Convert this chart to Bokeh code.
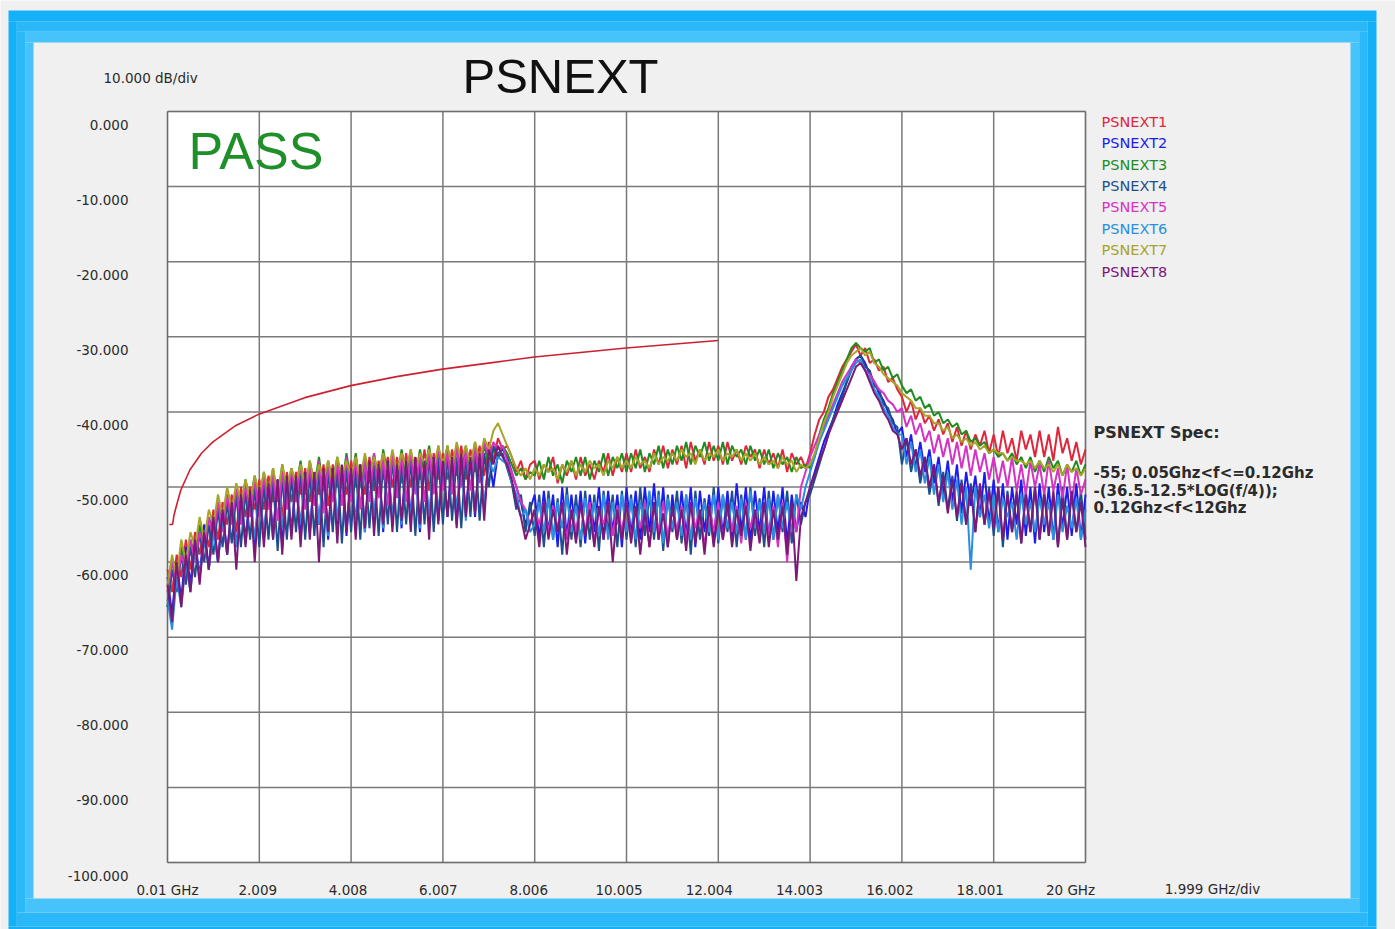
import numpy as np
from bokeh.plotting import figure
from bokeh.models import Range1d, LinearAxis, FixedTicker, Label, BoxAnnotation
from bokeh.embed import file_html
from bokeh.resources import INLINE

# ------------------------------------------------------------------ data
FREQ_GHZ = np.linspace(0.01, 20.0, 201)   # sweep points (GHz)

PSNEXT1 = [-61, -64, -59, -62, -57, -61, -56, -59, -55, -58,
           -53, -57, -52, -55, -51, -56, -50, -54, -50, -53,
           -49, -53, -48.5, -52, -49, -54, -48, -52, -48, -51,
           -47.5, -52, -48, -51, -47, -52.5, -47, -50, -47.5, -51,
           -46.5, -50, -47, -51, -46, -50.5, -46.5, -49, -46, -50,
           -46, -49.5, -45.5, -50, -46, -49, -45, -50.5, -45.5, -49,
           -45.5, -49, -45, -48.5, -44.5, -49, -45, -48, -44.5, -48.5,
           -44, -46.5, -43.5, -45, -44.5, -46, -48, -46.5, -49, -47,
           -46.5, -49, -47, -48, -46, -49.5, -47, -48.5, -46.5, -49,
           -46, -48.5, -47, -49, -46.5, -48, -45.5, -48.5, -46, -48,
           -45.5, -48, -45, -47.5, -46, -48, -45, -47, -44.5, -47.5,
           -45, -47, -44.5, -47.5, -44, -46.5, -45, -47, -44, -46.5,
           -44.5, -47, -44, -46.5, -45, -47, -44.5, -46, -45, -47.5,
           -45, -47, -45.5, -47.5, -45, -48, -45.5, -47, -46, -47.5,
           -45.5, -43, -41, -40, -38, -37, -35.5, -34, -33, -32,
           -31, -32.5, -31.5, -33.5, -33, -34.5, -34, -36, -35.5, -37,
           -38, -40, -38.5, -41, -39.5, -41.5, -40.5, -42.5, -41, -43,
           -41.5, -44, -42, -44.5, -42.5, -45, -43, -44.5, -42.5, -45.5,
           -43, -46, -42.5, -45.5, -43.5, -46.5, -42.5, -45, -43, -46,
           -42.5, -46, -43, -46.5, -42, -45.5, -43.5, -46.5, -44, -47,
           -45]
PSNEXT2 = [-62, -67, -60, -65, -58, -63, -57, -62, -55, -61,
           -54, -60, -53, -59, -52, -58, -51, -57, -50.5, -58,
           -50, -57, -49.5, -56, -49, -58, -49, -56, -48.5, -57,
           -48, -56, -48.5, -55, -48, -57, -47.5, -55, -48, -56.5,
           -47.5, -55, -47, -56, -47.5, -54.5, -47, -56, -46.5, -55,
           -47, -55.5, -46.5, -54, -47, -56, -46.5, -55, -46, -54.5,
           -46.5, -54, -46, -55, -46.5, -53.5, -46, -54, -45.5, -53,
           -46, -50, -45.5, -45, -46, -48, -50, -52, -55, -53,
           -51, -57, -50.5, -56, -51, -58, -50, -56.5, -51, -57,
           -50.5, -57.5, -51, -56, -50, -57, -50.5, -56, -51, -58,
           -50, -56.5, -50.5, -57, -50, -56, -49.5, -57, -50, -58,
           -51, -57, -50.5, -56.5, -50, -58, -50.5, -56, -51, -57.5,
           -50, -56.5, -50.5, -57, -49.5, -56, -50, -57.5, -50.5, -56,
           -50, -57, -50.5, -56, -50, -57.5, -51, -56, -52, -54,
           -50, -48, -46, -44, -42.5, -41, -39, -37.5, -36, -34,
           -33, -32.5, -33.5, -35, -36, -37.5, -38.5, -40, -41, -43,
           -42, -46, -43, -47.5, -44, -48, -45, -49.5, -46, -51,
           -46.5, -52, -47, -53.5, -48, -52.5, -48.5, -54, -48, -55,
           -49, -56, -49.5, -57, -50, -55, -49, -56.5, -50, -57.5,
           -49.5, -56, -50, -57, -49.5, -55.5, -50, -56.5, -49.5, -57,
           -51]
PSNEXT3 = [-66, -61, -63, -58, -62, -57, -60, -55, -58, -54,
           -56, -52, -55, -51, -54, -50, -53, -49, -52, -48.5,
           -52, -48, -51.5, -47.5, -52, -47, -51, -47.5, -50, -46.5,
           -51, -46.5, -50, -46, -50.5, -46.5, -49.5, -46, -50, -45.5,
           -49.5, -45.5, -50, -46, -49, -45.5, -49.5, -45, -48.5, -45.5,
           -49, -45, -48.5, -45.5, -49, -45, -48, -44.5, -48.5, -45,
           -48, -44.5, -48.5, -45, -47.5, -44.5, -48, -44, -47.5, -44.5,
           -47, -45, -46, -44.5, -45.5, -47, -48.5, -47.5, -49, -48,
           -48.5, -46.5, -49, -46, -48.5, -47, -49.5, -46.5, -48, -46,
           -48.5, -46, -49, -46.5, -48, -45.5, -48.5, -46, -47.5, -45.5,
           -48, -45.5, -47.5, -45, -48, -45.5, -47, -44.5, -47.5, -45,
           -47, -44.5, -46.5, -44, -47, -44.5, -46, -44, -46.5, -44.5,
           -46.5, -44, -47, -44.5, -46, -45, -47, -44.5, -46.5, -45,
           -47, -45, -47.5, -45.5, -47, -46, -48, -46, -47.5, -47,
           -47.5, -46, -43, -41, -39.5, -37.5, -36, -34.5, -33, -31.5,
           -30.8, -31.5, -32, -31.5, -33.5, -33, -34.5, -34, -35.5, -35,
           -36.5, -37.5, -37, -38.5, -38, -39.5, -39, -40.5, -40, -41.5,
           -41, -42, -41.5, -43, -42.5, -44, -43.5, -44.5, -44, -45.5,
           -45, -46, -45.5, -46.5, -45.5, -47, -46, -47.5, -46, -48,
           -46.5, -48, -46, -47.5, -46.5, -48.5, -47, -48, -46.5, -48.5,
           -47]
PSNEXT4 = [-66, -61, -64, -59, -63, -58, -62, -56, -60, -55,
           -59, -53, -58, -52, -57.5, -51, -58, -50.5, -57, -50,
           -58, -49.5, -57, -49, -58.5, -48.5, -57, -48.5, -56, -48,
           -57, -48, -56.5, -47.5, -58, -47.5, -56, -47, -57.5, -47,
           -56, -47, -57, -46.5, -55.5, -47, -56.5, -46.5, -55, -46,
           -56, -46.5, -55, -46, -56.5, -46.5, -55, -45.5, -56, -46,
           -55, -45.5, -54.5, -46, -55.5, -45.5, -54, -45, -54.5, -45.5,
           -50, -44.5, -46, -45.5, -47.5, -49.5, -53, -51, -56, -52,
           -56.5, -51, -58, -50.5, -57, -51.5, -59, -50, -57, -51,
           -58, -50.5, -57, -51, -58.5, -50.5, -56, -51, -58, -50.5,
           -57, -51, -58, -50, -56.5, -51, -57, -50.5, -58.5, -51,
           -56, -50.5, -57.5, -51, -59, -50.5, -57, -51.5, -56.5, -50,
           -57.5, -51, -56, -50.5, -58, -51, -57, -50, -56.5, -51.5,
           -58, -50.5, -57, -51, -56, -50.5, -57.5, -51, -55, -52,
           -51, -49, -47, -45, -43, -41, -39.5, -38, -36, -34.5,
           -33, -32.5, -34, -34.5, -36.5, -37, -39, -39.5, -41.5, -42,
           -47, -43.5, -48, -45, -49.5, -46, -51, -47, -52.5, -48,
           -53, -48.5, -54.5, -49, -55, -49.5, -56, -50, -55, -50,
           -56.5, -50, -58, -50.5, -56, -51, -57.5, -50.5, -56, -50,
           -57, -50.5, -56.5, -51, -58, -50, -57, -51, -56, -50.5,
           -57]
PSNEXT5 = [-64, -60, -63, -59, -61, -57, -60, -56, -58, -54,
           -57, -52, -56, -51, -55, -50, -55, -49.5, -54, -49,
           -54, -48.5, -53, -48, -54.5, -48, -53, -47.5, -52, -47,
           -53, -47, -52.5, -46.5, -53.5, -47, -52, -46.5, -52.5, -46,
           -52, -46, -53, -46.5, -52, -45.5, -51.5, -46, -52.5, -45.5,
           -51.5, -45.5, -52, -45, -51, -45.5, -52, -45, -51, -44.5,
           -50.5, -45, -51, -44.5, -50, -45, -50.5, -44.5, -49.5, -44,
           -46, -44, -45, -44.5, -46.5, -48, -50, -52, -53, -55,
           -53, -55, -52, -56, -52.5, -55.5, -52, -57, -53, -56,
           -52.5, -56, -52, -57.5, -53, -55, -52, -56.5, -52.5, -56,
           -52, -57, -53, -55.5, -52, -58, -52.5, -56, -52, -57,
           -53, -56, -52.5, -57, -52, -55.5, -53, -58, -52.5, -56,
           -52, -57, -53, -56, -52.5, -57.5, -52, -55.5, -53, -57,
           -52, -56.5, -52.5, -58, -52, -60, -52.5, -56, -50, -48,
           -46, -44.5, -43, -42, -40.5, -39, -37.5, -36, -35, -34,
           -33, -33.5, -34.5, -35, -36, -37, -37.5, -38.5, -39, -40,
           -39.5, -42, -40.5, -43, -41.5, -44, -42.5, -45.5, -43, -46,
           -43.5, -47, -44, -47.5, -44.5, -48.5, -45, -48, -45.5, -49,
           -46, -49.5, -46.5, -50, -46, -50.5, -47, -51, -46.5, -50,
           -47, -51, -46.5, -50.5, -47.5, -51.5, -47, -52, -47.5, -51,
           -49]
PSNEXT6 = [-65, -69, -62, -66, -60, -64, -58, -62, -57, -61,
           -56, -60, -54, -59, -53, -58, -52, -57.5, -51.5, -57,
           -50.5, -56, -50, -57, -49.5, -55.5, -49, -56.5, -49, -55,
           -48.5, -56, -48, -55, -48.5, -56.5, -48, -54.5, -47.5, -55.5,
           -48, -55, -47.5, -56, -47, -54, -47.5, -55.5, -47, -54,
           -47.5, -55, -47, -54.5, -46.5, -55.5, -47, -54, -46.5, -53.5,
           -46.5, -54, -47, -53, -46, -54.5, -46.5, -53, -46, -52.5,
           -46.5, -48, -46, -46.5, -47, -49.5, -51, -54, -53, -56,
           -55, -52, -56, -51.5, -57, -52, -55.5, -51, -56, -52.5,
           -57, -51.5, -55, -52, -56.5, -51, -57, -52, -55, -51,
           -56, -51.5, -57, -52, -55, -50.5, -56, -51, -57.5, -51.5,
           -55.5, -52, -56.5, -51, -57, -51.5, -55, -52, -56, -51,
           -57, -51, -55.5, -52, -56, -51.5, -57, -50.5, -55.5, -52,
           -56, -51.5, -57, -51, -55.5, -52, -56, -51, -53, -50,
           -48, -46, -44, -42.5, -41, -39.5, -38, -36.5, -35.5, -34.5,
           -33.5, -33, -34.5, -35.5, -37, -38, -39.5, -40.5, -42, -43,
           -43, -47, -44, -48, -45, -49.5, -46, -51, -47, -52,
           -48, -53, -49, -55, -50, -61, -50, -54, -51, -55.5,
           -51, -56, -51.5, -54, -52, -57, -51, -55, -52, -56,
           -51.5, -55, -52, -57, -51, -56, -52.5, -55.5, -51.5, -57,
           -53]
PSNEXT7 = [-63, -59, -62, -57, -60, -56, -58, -54, -57, -53,
           -55, -51, -54, -50, -53, -49.5, -52, -49, -52, -48.5,
           -51, -48, -50.5, -47.5, -51, -47, -50, -47.5, -49.5, -47,
           -50, -46.5, -49.5, -47, -49, -46.5, -49.5, -46, -48.5, -46.5,
           -48.5, -46, -49, -45.5, -48.5, -46, -48, -45.5, -48.5, -45,
           -48, -45.5, -47.5, -45, -48, -45.5, -47, -45, -47.5, -44.5,
           -47, -44.5, -47.5, -44, -46.5, -44.5, -47, -44, -46.5, -43.5,
           -45, -42.5, -41.5, -43, -44.5, -46, -47.5, -48.5, -47.5, -49,
           -47.5, -48.5, -47, -48, -47.5, -49, -47, -48, -46.5, -48.5,
           -47, -48, -46.5, -47.5, -47, -48.5, -46.5, -47.5, -46, -47.5,
           -46.5, -47.5, -46, -47, -46.5, -47.5, -45.5, -47, -46, -46.5,
           -45.5, -46.5, -45, -46, -45.5, -47, -45, -46.5, -45.5, -46,
           -45, -46.5, -45.5, -46, -45, -46.5, -45.5, -46.5, -45.5, -47,
           -46, -47, -46.5, -47.5, -46, -47, -46.5, -48, -47, -47.5,
           -47, -45.5, -43.5, -41.5, -40, -38, -36.5, -35, -33.5, -32.5,
           -32, -31.5, -32.5, -32, -33.5, -34, -35, -35.5, -36, -36.5,
           -37.5, -38, -38.5, -39.5, -39.5, -40.5, -40.5, -41.5, -41.5, -42.5,
           -42, -43.5, -43, -44, -43.5, -44.5, -44, -45, -44.5, -45.5,
           -45, -45.5, -45.5, -46.5, -46, -46.5, -46.5, -47, -46.5, -47.5,
           -46.5, -47.5, -47, -48, -47, -48.5, -47, -48, -47.5, -48.5,
           -47.5]
PSNEXT8 = [-63, -68, -60, -66, -59, -64, -57, -63, -56, -61,
           -54, -60, -53, -59, -52, -61, -51, -58, -50.5, -60,
           -50, -58, -49.5, -57, -49, -59, -48.5, -57, -48.5, -58,
           -48, -57, -48, -60, -47.5, -56, -47.5, -57.5, -47, -56,
           -47.5, -57, -47, -55.5, -46.5, -56.5, -47, -55, -46.5, -56,
           -47, -54.5, -46.5, -56, -46, -55, -46.5, -57, -46, -55,
           -46.5, -54, -46, -55.5, -45.5, -54, -46, -53.5, -45.5, -54.5,
           -45, -47, -44.5, -46, -47, -49, -52, -54, -57, -55,
           -53, -58, -52, -57, -53, -56, -52, -59, -53, -57.5,
           -52, -56.5, -53, -58, -52.5, -57, -52, -60, -53, -57,
           -52, -57.5, -52.5, -59, -53, -58, -52, -57, -53.5, -58,
           -52.5, -57, -53, -58.5, -52, -57.5, -53, -59, -52.5, -58,
           -53, -57, -52, -58, -53, -56.5, -52.5, -58.5, -53, -57.5,
           -52, -58, -53, -57, -52.5, -59, -52, -62.5, -54, -52,
           -50, -48.5, -46.5, -45, -43, -41.5, -40, -38.5, -37, -35.5,
           -34, -33.5, -34.5, -36, -37.5, -38.5, -40, -41, -42.5, -43,
           -45, -43.5, -47, -45, -48.5, -46, -50, -47, -52, -48.5,
           -53.5, -49, -54, -49.5, -55, -50, -56, -49.5, -55, -50.5,
           -55.5, -50, -57, -51, -56, -50.5, -57.5, -51, -56, -50,
           -57, -51, -56.5, -50.5, -58, -51.5, -57, -50.5, -56, -52,
           -58]

SERIES = [PSNEXT1, PSNEXT2, PSNEXT3, PSNEXT4, PSNEXT5, PSNEXT6, PSNEXT7, PSNEXT8]
SERIES_NAMES = ["PSNEXT1", "PSNEXT2", "PSNEXT3", "PSNEXT4",
                "PSNEXT5", "PSNEXT6", "PSNEXT7", "PSNEXT8"]
SERIES_COLORS = ["#e0263c", "#1c1cf0", "#1e8c1e", "#1f4e8c",
                 "#d632c4", "#2a8fe0", "#a8a428", "#7c1878"]

# spec limit line
SPEC_FREQ = [0.05, 0.12, 0.15, 0.2, 0.3, 0.5, 0.75, 1.0, 1.5, 2.0, 3.0, 4.0,
             5.0, 6.0, 7.0, 8.0, 9.0, 10.0, 11.0, 12.0]
SPEC_DB = [-55, -55, -53.8, -52.6, -50.4, -47.7, -45.5, -44.0, -41.8, -40.3,
           -38.1, -36.5, -35.3, -34.3, -33.5, -32.7, -32.1, -31.5, -31.0, -30.5]

X_TICKS = [0.01, 2.009, 4.008, 6.007, 8.006, 10.005, 12.004, 14.003, 16.002, 18.001, 20.0]
X_TICK_LABELS = ["0.01 GHz", "2.009", "4.008", "6.007", "8.006", "10.005",
                 "12.004", "14.003", "16.002", "18.001", "20 GHz"]
Y_TICKS = [0, -10, -20, -30, -40, -50, -60, -70, -80, -90, -100]
Y_TICK_LABELS = ["0.000", "-10.000", "-20.000", "-30.000", "-40.000", "-50.000",
                 "-60.000", "-70.000", "-80.000", "-90.000", "-100.000"]

TITLE = "PSNEXT"
VERDICT = "PASS"
Y_DIV = "10.000 dB/div"
X_DIV = "1.999 GHz/div"
SPEC_TEXT = ["PSNEXT Spec:", "-55; 0.05Ghz<f<=0.12Ghz",
             "-(36.5-12.5*LOG(f/4));", "0.12Ghz<f<12Ghz"]

# ------------------------------------------------------------------ layout
W, H = 1395, 929
FL, FR, FT, FB = 167, 1085, 111, 862          # plot area in page pixels
X0, X1, Y0, Y1 = 0.01, 20.0, -100.0, 0.0


def dx(px):
    return X0 + (px - FL) * (X1 - X0) / (FR - FL)


def dy(py):
    return Y1 - (py - FT) * (Y1 - Y0) / (FB - FT)


p = figure(width=W, height=H,
           x_range=Range1d(dx(0), dx(W)), y_range=Range1d(dy(H), dy(0)),
           x_axis_location=None, y_axis_location=None,
           toolbar_location=None, output_backend="svg",
           min_border=0, min_border_left=0, min_border_right=0,
           min_border_top=0, min_border_bottom=0,
           background_fill_color="#f0f0f0", border_fill_color="#f0f0f0",
           outline_line_color=None)
p.xgrid.visible = False
p.ygrid.visible = False

# white plot area
p.add_layout(BoxAnnotation(left=X0, right=X1, bottom=Y0, top=Y1,
                           fill_color="white", fill_alpha=1.0, line_color=None,
                           level="underlay"))

# grid from the tick arrays
nx, ny = len(X_TICKS), len(Y_TICKS)
p.segment(x0=X_TICKS, y0=[Y0] * nx, x1=X_TICKS, y1=[Y1] * nx,
          line_color="#7a7a7a", line_width=1.5)
p.segment(x0=[X0] * ny, y0=Y_TICKS, x1=[X1] * ny, y1=Y_TICKS,
          line_color="#7a7a7a", line_width=1.5)

# label axes, fixed at the plot-area edges; shifted ranges put the labels
# where the instrument draws them
x_lab_px = 1070
k = (X1 - X0) / (x_lab_px - FL)
p.extra_x_ranges = {"xlab": Range1d(X0 - FL * k, X0 + (W - FL) * k)}
shift = 13 * (Y1 - Y0) / (FB - FT)
p.extra_y_ranges = {"ylab": Range1d(dy(H) + shift, dy(0) + shift)}

common = dict(axis_line_color=None, major_tick_line_color=None,
              minor_tick_line_color=None, major_tick_in=0, major_tick_out=0,
              minor_tick_in=0, minor_tick_out=0,
              major_label_text_font="DejaVu Sans",
              major_label_text_font_size="13.5px",
              major_label_text_color="#2b2b2b")

xax = LinearAxis(x_range_name="xlab", ticker=FixedTicker(ticks=X_TICKS),
                 major_label_overrides=dict(zip(X_TICKS, X_TICK_LABELS)),
                 bounds=(X0, X1), fixed_location=Y0,
                 major_label_standoff=19, **common)
yax = LinearAxis(y_range_name="ylab", ticker=FixedTicker(ticks=Y_TICKS),
                 major_label_overrides=dict(zip(Y_TICKS, Y_TICK_LABELS)),
                 bounds=(Y0, Y1), fixed_location=X0,
                 major_label_standoff=39, **common)
p.add_layout(xax, "below")
p.add_layout(yax, "left")

# ------------------------------------------------------------------ traces
for ys, col in zip(SERIES, SERIES_COLORS):
    p.line(FREQ_GHZ, ys, line_color=col, line_width=2.0)

p.line(SPEC_FREQ, SPEC_DB, line_color="#cc2030", line_width=1.6)

# plot-area border
p.add_layout(BoxAnnotation(left=X0, right=X1, bottom=Y0, top=Y1,
                           fill_color=None, line_color="#505050", line_width=1.5))

# ------------------------------------------------------------------ blue frame
outer = (8, 10, 1376, 940)
inner = (33, 42, 1350, 898)
ring_cols = ["#14b0f8", "#2ab8f9", "#46c3fa"]
for j, col in enumerate(ring_cols):
    a, b = j / 3.0, (j + 1) / 3.0
    oL = outer[0] + (inner[0] - outer[0]) * a
    iL = outer[0] + (inner[0] - outer[0]) * b
    oT = outer[1] + (inner[1] - outer[1]) * a
    iT = outer[1] + (inner[1] - outer[1]) * b
    oR = outer[2] + (inner[2] - outer[2]) * a
    iR = outer[2] + (inner[2] - outer[2]) * b
    oB = outer[3] + (inner[3] - outer[3]) * a
    iB = outer[3] + (inner[3] - outer[3]) * b
    for (l, r, t, bt) in [(oL, oR, oT, iT), (oL, oR, iB, oB),
                          (oL, iL, iT, iB), (iR, oR, iT, iB)]:
        p.add_layout(BoxAnnotation(left=dx(l), right=dx(r), top=dy(t), bottom=dy(bt),
                                   fill_color=col, fill_alpha=1.0, line_color=None,
                                   level="underlay"))


# ------------------------------------------------------------------ texts
def lab(px, py, text, size, color="#222222", font="DejaVu Sans", style="normal",
        align="left"):
    # py is the wanted baseline; the renderer sits the text ~0.4em lower
    p.add_layout(Label(x=dx(px), y=dy(py - 0.4 * size), text=text, text_font=font,
                       text_font_size=f"{size}px", text_color=color,
                       text_font_style=style, text_align=align,
                       text_baseline="alphabetic"))


lab(560, 95, TITLE, 49, "#111111", "Liberation Sans", align="center")
lab(103, 83, Y_DIV, 13.5, "#2b2b2b")
lab(1212, 894, X_DIV, 13.5, "#2b2b2b", align="center")
lab(188, 171, VERDICT, 52, "#1f8f2a", "Liberation Sans")

for i, (name, col) in enumerate(zip(SERIES_NAMES, SERIES_COLORS)):
    lab(1101, 127 + 21.4 * i, name, 14.5, col)

lab(1093, 438, SPEC_TEXT[0], 16, "#2b2b2b", style="bold")
for t, yb in zip(SPEC_TEXT[1:], [478, 496, 513]):
    lab(1093, yb, t, 15, "#2b2b2b", style="bold")

open("out.html", "w").write(file_html(p, INLINE))
